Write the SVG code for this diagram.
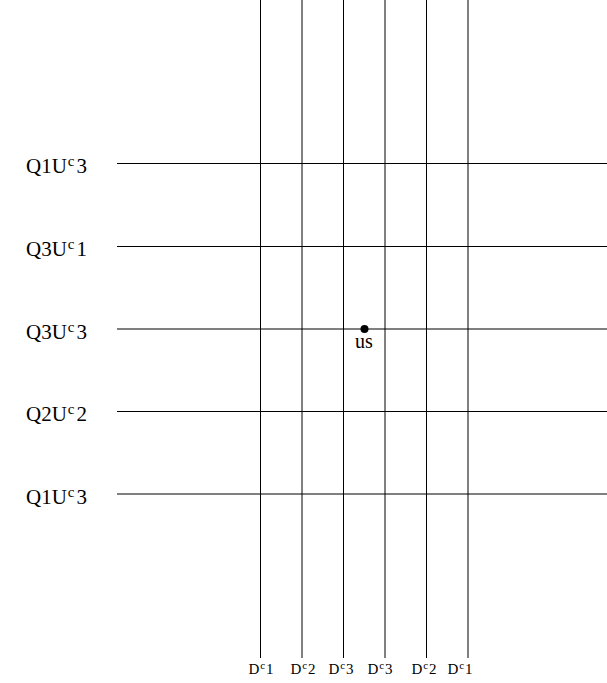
<svg xmlns="http://www.w3.org/2000/svg" width="607" height="683" viewBox="0 0 607 683">
<style>
.ln{stroke:#000;stroke-width:1;fill:none}
.lbl{font-family:"Liberation Serif",serif;font-size:21px;fill:#000}
.bl{font-family:"Liberation Serif",serif;font-size:15px;fill:#000}
.sup{font-size:15px}
.bsup{font-size:11px}
</style>
<rect width="607" height="683" fill="#fff"/>
<g id="connectors">
<line class="ln" x1="260.5" y1="0" x2="260.5" y2="658"/>
<line class="ln" x1="302" y1="0" x2="302" y2="658"/>
<line class="ln" x1="343.5" y1="0" x2="343.5" y2="658"/>
<line class="ln" x1="385" y1="0" x2="385" y2="658"/>
<line class="ln" x1="426.5" y1="0" x2="426.5" y2="658"/>
<line class="ln" x1="468" y1="0" x2="468" y2="658"/>
<line class="ln" x1="117" y1="163.5" x2="607" y2="163.5"/>
<line class="ln" x1="117" y1="246.5" x2="607" y2="246.5"/>
<line class="ln" x1="117" y1="329" x2="607" y2="329"/>
<line class="ln" x1="117" y1="411.5" x2="607" y2="411.5"/>
<line class="ln" x1="117" y1="494" x2="607" y2="494"/>
</g>
<g id="row1"><text class="lbl" x="26" y="173">Q1U<tspan class="sup" dx="1" dy="-7">c</tspan><tspan dx="2" dy="7">3</tspan></text></g>
<g id="row2"><text class="lbl" x="26" y="256">Q3U<tspan class="sup" dx="1" dy="-7">c</tspan><tspan dx="2" dy="7">1</tspan></text></g>
<g id="row3"><text class="lbl" x="26" y="339">Q3U<tspan class="sup" dx="1" dy="-7">c</tspan><tspan dx="2" dy="7">3</tspan></text></g>
<g id="row4"><text class="lbl" x="26" y="421">Q2U<tspan class="sup" dx="1" dy="-7">c</tspan><tspan dx="2" dy="7">2</tspan></text></g>
<g id="row5"><text class="lbl" x="26" y="504">Q1U<tspan class="sup" dx="1" dy="-7">c</tspan><tspan dx="2" dy="7">3</tspan></text></g>
<g id="col1"><text class="bl" x="261" y="674" text-anchor="middle">D<tspan class="bsup" dx="1" dy="-5">c</tspan><tspan dx="1" dy="5">1</tspan></text></g>
<g id="col2"><text class="bl" x="303" y="674" text-anchor="middle">D<tspan class="bsup" dx="1" dy="-5">c</tspan><tspan dx="1" dy="5">2</tspan></text></g>
<g id="col3"><text class="bl" x="341" y="674" text-anchor="middle">D<tspan class="bsup" dx="1" dy="-5">c</tspan><tspan dx="1" dy="5">3</tspan></text></g>
<g id="col4"><text class="bl" x="380" y="674" text-anchor="middle">D<tspan class="bsup" dx="1" dy="-5">c</tspan><tspan dx="1" dy="5">3</tspan></text></g>
<g id="col5"><text class="bl" x="424" y="674" text-anchor="middle">D<tspan class="bsup" dx="1" dy="-5">c</tspan><tspan dx="1" dy="5">2</tspan></text></g>
<g id="col6"><text class="bl" x="460" y="674" text-anchor="middle">D<tspan class="bsup" dx="1" dy="-5">c</tspan><tspan dx="1" dy="5">1</tspan></text></g>
<g id="us">
<circle cx="364.5" cy="329" r="4" fill="#000"/>
<text class="lbl" x="364" y="348" text-anchor="middle" style="font-size:20px">us</text>
</g>
</svg>
